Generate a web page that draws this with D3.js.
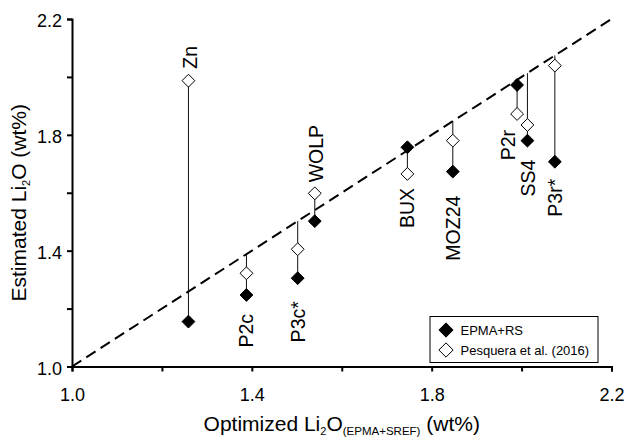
<!DOCTYPE html>
<html><head><meta charset="utf-8">
<script src="https://cdn.jsdelivr.net/npm/d3@7"></script>
<style>
html,body{margin:0;padding:0;background:#fff;}
svg{display:block;font-family:"Liberation Sans",Arial,Helvetica,sans-serif;}
</style></head>
<body>
<svg id="chart" width="627" height="439"></svg>
<script>
// ---- data ----
const samples   = ["Zn", "P2c", "P3c*", "WOLP", "BUX", "MOZ24", "P2r", "SS4", "P3r*"];
const optimized = [1.259, 1.388, 1.502, 1.540, 1.746, 1.847, 1.990, 2.013, 2.074];
const epmaRS    = [1.155, 1.247, 1.305, 1.502, 1.757, 1.673, 1.972, 1.780, 1.707];
const pesquera  = [1.987, 1.322, 1.405, 1.598, 1.665, 1.780, 1.872, 1.834, 2.039];
const tickVals  = [1.0, 1.2, 1.4, 1.6, 1.8, 2.0, 2.2];
const majorTicks = [1.0, 1.4, 1.8, 2.2];
const legendLabels = ["EPMA+RS", "Pesquera et al. (2016)"];

// ---- label layout (side, gap, x shift) ----
const labelSide = ["top", "bottom", "bottom", "top", "bottom", "bottom", "bottom", "bottom", "bottom"];
const labelGap  = [12, 19, 23, 11, 14, 24, 16, 19, 17];
const labelDx   = [2, 0, 0, 1, 0, 0, -9, 1, 0];

const svg = d3.select("#chart");
const M = {left: 72, top: 19, right: 15.5, bottom: 72.5};
const W = 627 - M.left - M.right, H = 439 - M.top - M.bottom;

const x = d3.scaleLinear().domain([1.0, 2.2]).range([M.left, M.left + W]);
const y = d3.scaleLinear().domain([1.0, 2.2]).range([M.top + H, M.top]);

const fmt = v => majorTicks.some(m => Math.abs(m - v) < 1e-9) ? d3.format(".1f")(v) : "";

// axes
const gx = svg.append("g").attr("transform", `translate(0,${M.top + H})`)
  .call(d3.axisBottom(x).tickValues(tickVals).tickFormat(fmt).tickSizeOuter(0).tickSize(5).tickPadding(17));
const gy = svg.append("g").attr("transform", `translate(${M.left},0)`)
  .call(d3.axisLeft(y).tickValues(tickVals).tickFormat(fmt).tickSizeOuter(0).tickSize(5).tickPadding(5));
[gx, gy].forEach(g => {
  g.select(".domain").attr("stroke", "#000").attr("stroke-width", 2);
  g.selectAll(".tick line").attr("stroke", "#000").attr("stroke-width", 2);
  g.selectAll(".tick text").attr("fill", "#000").style("font-size", "18px")
    .style("font-family", "'Liberation Sans',Arial,sans-serif");
});
gy.selectAll(".tick text").attr("dy", "0.42em");

// 1:1 line
svg.append("line")
  .attr("x1", x(1.0)).attr("y1", y(1.0)).attr("x2", x(2.2)).attr("y2", y(2.2))
  .attr("stroke", "#000").attr("stroke-width", 2).attr("stroke-dasharray", "11,6");

const idx = d3.range(samples.length);

// vertical connectors
svg.append("g").selectAll("line").data(idx).join("line")
  .attr("x1", i => x(optimized[i])).attr("x2", i => x(optimized[i]))
  .attr("y1", i => y(Math.min(optimized[i], epmaRS[i], pesquera[i])))
  .attr("y2", i => y(Math.max(optimized[i], epmaRS[i], pesquera[i])))
  .attr("stroke", "#111").attr("stroke-width", 1);

const diamond = d3.symbol().type(d3.symbolDiamond2).size(105);
const legDiamond = d3.symbol().type(d3.symbolDiamond2).size(130);

// open diamonds (Pesquera)
svg.append("g").selectAll("path").data(idx).join("path")
  .attr("d", diamond)
  .attr("transform", i => `translate(${x(optimized[i])},${y(pesquera[i])})`)
  .attr("fill", "#fff").attr("stroke", "#000").attr("stroke-width", 1);

// filled diamonds (EPMA+RS)
svg.append("g").selectAll("path").data(idx).join("path")
  .attr("d", diamond)
  .attr("transform", i => `translate(${x(optimized[i])},${y(epmaRS[i])})`)
  .attr("fill", "#000").attr("stroke", "#000").attr("stroke-width", 1);

// sample labels
svg.append("g").selectAll("text").data(idx).join("text")
  .attr("transform", i => {
    const hi = Math.max(epmaRS[i], pesquera[i]), lo = Math.min(epmaRS[i], pesquera[i]);
    const px = x(optimized[i]) + labelDx[i];
    const py = labelSide[i] === "top" ? y(hi) - labelGap[i] : y(lo) + labelGap[i];
    return `translate(${px},${py}) rotate(-90)`;
  })
  .attr("text-anchor", i => labelSide[i] === "top" ? "start" : "end")
  .attr("dy", "0.36em")
  .style("font-size", "19.5px")
  .text(i => samples[i]);

// axis titles
const xt = svg.append("text").attr("x", x(1.6)).attr("y", 431).attr("text-anchor", "middle")
  .style("font-size", "21px");
xt.append("tspan").text("Optimized Li");
xt.append("tspan").text("2").style("font-size", "11px").attr("dy", 4);
xt.append("tspan").text("O").attr("dy", -4);
xt.append("tspan").text("(EPMA+SREF)").style("font-size", "11.5px").attr("dy", 4);
xt.append("tspan").text(" (wt%)").attr("dy", -4);

const yt = svg.append("text").attr("transform", `translate(26,${y(1.6) + 10}) rotate(-90)`)
  .attr("text-anchor", "middle").style("font-size", "21px");
yt.append("tspan").text("Estimated Li");
yt.append("tspan").text("2").style("font-size", "11px").attr("dy", 4);
yt.append("tspan").text("O (wt%)").attr("dy", -4);

// legend
const lg = svg.append("g");
lg.append("rect").attr("x", 430).attr("y", 316.5).attr("width", 168).attr("height", 46)
  .attr("fill", "#fff").attr("stroke", "#000").attr("stroke-width", 1);
const legFill = ["#000", "#fff"];
legendLabels.forEach((t, k) => {
  const cy = 330 + k * 20;
  lg.append("path").attr("d", legDiamond).attr("transform", `translate(446,${cy})`)
    .attr("fill", legFill[k]).attr("stroke", "#000").attr("stroke-width", 1);
  lg.append("text").attr("x", 460.5).attr("y", cy).attr("dy", "0.36em")
    .style("font-size", "13px").text(t);
});
</script>
</body></html>
